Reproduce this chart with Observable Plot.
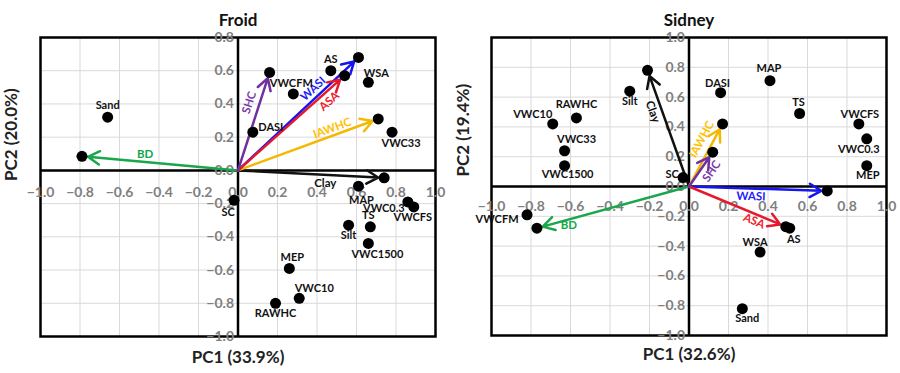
<!DOCTYPE html>
<html>
<head>
<meta charset="utf-8">
<script src="https://cdn.jsdelivr.net/npm/d3@7"></script>
<script src="https://cdn.jsdelivr.net/npm/@observablehq/plot@0.6"></script>
<style>
  html, body { margin: 0; padding: 0; background: #fff; }
  #wrap { display: flex; width: 900px; height: 373px; }
  #wrap svg { display: block; }
</style>
</head>
<body>
<div id="wrap"></div>
<script>
// ---------- DATA ----------
const froidVars = ["Sand","BD","SHC","VWCFM","DASI","AS","ASA","WASI","WSA","IAWHC","VWC33","Clay","SC","MAP","VWC0.3","VWCFS","TS","Silt","VWC1500","MEP","VWC10","RAWHC"];
const froidPC1  = [-0.66,-0.79,0.16,0.28,0.075,0.47,0.54,0.61,0.66,0.71,0.78,0.74,-0.02,0.61,0.86,0.89,0.67,0.56,0.66,0.26,0.31,0.19];
const froidPC2  = [0.32,0.085,0.59,0.46,0.23,0.60,0.57,0.68,0.53,0.31,0.23,-0.045,-0.18,-0.095,-0.19,-0.22,-0.34,-0.33,-0.44,-0.59,-0.77,-0.80];

const sidneyVars = ["Clay","Silt","RAWHC","VWC10","VWC33","VWC1500","SC","DASI","IAWHC","SHC","MAP","TS","VWCFS","VWC0.3","MEP","WASI","AS","ASA","WSA","Sand","VWCFM","BD"];
const sidneyPC1  = [-0.21,-0.30,-0.57,-0.69,-0.63,-0.63,-0.03,0.16,0.17,0.12,0.41,0.56,0.86,0.90,0.90,0.70,0.51,0.49,0.36,0.27,-0.82,-0.77];
const sidneyPC2  = [0.78,0.64,0.46,0.42,0.24,0.14,0.06,0.63,0.42,0.23,0.71,0.49,0.42,0.32,0.14,-0.03,-0.28,-0.27,-0.44,-0.82,-0.19,-0.28];

const arrowVars = ["BD","Clay","IAWHC","WASI","ASA","SHC"];
const xTicks = [-1,-0.8,-0.6,-0.4,-0.2,0,0.2,0.4,0.6,0.8,1];
const froidYTicks = [-1,-0.8,-0.6,-0.4,-0.2,0,0.2,0.4,0.6,0.8];
const sidneyYTicks = [-1,-0.8,-0.6,-0.4,-0.2,0,0.2,0.4,0.6,0.8,1];

// ---------- STYLE / LAYOUT ----------
const arrowColor = {BD:"#1aa64a", Clay:"#111111", IAWHC:"#f5b800", WASI:"#1515f0", ASA:"#e5192c", SHC:"#7030a0"};
const labelColor = {BD:"#12a84a", Clay:"#111111", IAWHC:"#ffc000", WASI:"#1e1ef5", ASA:"#ef1c2c", SHC:"#7a3aa8"};

const froidArrowLabel = {
  BD:{t:0.6, off:-8, rot:false}, Clay:{t:0.6, off:-8, rot:false},
  SHC:{t:0.66, off:10, rot:true}, WASI:{t:0.67, off:8, rot:true},
  ASA:{t:0.80, off:-9, rot:true}, IAWHC:{t:0.69, off:7, rot:true}
};
const sidneyArrowLabel = {
  Clay:{t:0.67, off:9, rot:true}, IAWHC:{t:0.67, off:11, rot:true},
  SHC:{t:0.61, off:-10, rot:true}, WASI:{t:0.45, off:-8, rot:true},
  ASA:{t:0.70, off:-7, rot:true}, BD:{t:0.80, off:6, rot:false}
};
const froidLabelOff = {
  Sand:[0,-12], VWCFM:[-2,-11], DASI:[18,-5], AS:[0,-11], WSA:[8,-9], VWC33:[9,11],
  SC:[-6,12], MAP:[3,14], "VWC0.3":[-24,7], VWCFS:[-1,11], TS:[-2,-11], Silt:[0,10],
  VWC1500:[9,11], MEP:[3,-11], VWC10:[15,-10], RAWHC:[0,10]
};
const sidneyLabelOff = {
  Silt:[0,10], RAWHC:[0,-13], VWC10:[-20,-9], VWC33:[12,-11], VWC1500:[3,9], SC:[-11,-3],
  DASI:[-3,-9], MAP:[-1,-12], TS:[-1,-11], VWCFS:[1,-9], "VWC0.3":[-8,11], MEP:[1,10],
  AS:[4,11], WSA:[-5,-10], Sand:[5,10], VWCFM:[-30,5]
};

const fmt = d3.format(".1f");
const FONT = "Lato, 'Open Sans', sans-serif";

function panel(cfg) {
  const W = 450, H = 373;
  const {mL, mR, mT, mB, yDomain} = cfg;
  const data = cfg.names.map((n, i) => ({name: n, x: cfg.pc1[i], y: cfg.pc2[i]}));
  const byName = Object.fromEntries(data.map(d => [d.name, d]));
  const kx = (W - mL - mR) / 2;
  const ky = (H - mT - mB) / (yDomain[1] - yDomain[0]);

  const marks = [
    Plot.ruleX(xTicks, {stroke: "#d9d9d9", strokeWidth: 1}),
    Plot.ruleY(cfg.yTicks, {stroke: "#d9d9d9", strokeWidth: 1}),
    Plot.frame({stroke: "#000", strokeWidth: 2.5}),
    Plot.ruleX([0], {stroke: "#000", strokeWidth: 2.5}),
    Plot.ruleY([0], {stroke: "#000", strokeWidth: 2.5}),
    Plot.text(xTicks, {x: d => d, y: () => 0, text: d => fmt(d), dy: cfg.xTickDy, fill: "#808080", fontSize: 14, fontWeight: "bold"}),
    Plot.text(cfg.yTicks, {x: () => 0, y: d => d, text: d => fmt(d), dx: -4, textAnchor: "end", fill: "#808080", fontSize: 14, fontWeight: "bold"})
  ];

  for (const v of arrowVars) {
    const d = byName[v];
    marks.push(Plot.arrow([d], {x1: () => 0, y1: () => 0, x2: "x", y2: "y", stroke: arrowColor[v], strokeWidth: 2.5, headLength: 8, insetEnd: 6}));
  }
  marks.push(Plot.dot(data, {x: "x", y: "y", r: 5.5, fill: "#000"}));

  for (const v of arrowVars) {
    const d = byName[v];
    const L = cfg.arrowLabel[v];
    const vx = d.x * kx, vy = -d.y * ky;
    const len = Math.hypot(vx, vy);
    const ux = vx / len, uy = vy / len;
    const nx = uy, ny = -ux;
    let ang = Math.atan2(uy, ux) * 180 / Math.PI;
    if (ang > 90) ang -= 180;
    if (ang <= -90) ang += 180;
    marks.push(Plot.text([d], {
      x: p => p.x * L.t, y: p => p.y * L.t, text: "name",
      dx: L.off * nx, dy: L.off * ny, rotate: L.rot ? ang : 0,
      fill: labelColor[v], fontSize: 11.5, fontWeight: "bold"
    }));
  }
  for (const d of data) {
    const o = cfg.labelOff[d.name];
    if (!o) continue;
    marks.push(Plot.text([d], {x: "x", y: "y", text: "name", dx: o[0], dy: o[1], fill: "#111", fontSize: 11, fontWeight: "bold"}));
  }
  marks.push(Plot.text([cfg.title], {frameAnchor: "top", dy: -24, text: d => d, fontSize: 17, fontWeight: "bold", fill: "#111"}));
  marks.push(Plot.text([cfg.xTitle], {frameAnchor: "bottom", dy: cfg.xTitleDy, text: d => d, fontSize: 17, fontWeight: "bold", fill: "#222"}));
  marks.push(Plot.text([cfg.yTitle], {frameAnchor: "left", dx: cfg.yTitleDx, dy: cfg.yTitleDy, rotate: -90, text: d => d, fontSize: 17, fontWeight: "bold", fill: "#222"}));

  return Plot.plot({
    width: W, height: H,
    marginLeft: mL, marginRight: mR, marginTop: mT, marginBottom: mB,
    x: {domain: [-1, 1], axis: null},
    y: {domain: yDomain, axis: null},
    style: {fontFamily: FONT, background: "#fff", overflow: "visible"},
    marks
  });
}

const wrap = document.getElementById("wrap");
wrap.append(panel({
  title: "Froid", xTitle: "PC1 (33.9%)", yTitle: "PC2 (20.0%)",
  names: froidVars, pc1: froidPC1, pc2: froidPC2,
  yDomain: [-1, 0.8], yTicks: froidYTicks,
  mL: 40, mR: 15, mT: 37, mB: 37,
  xTickDy: 22, xTitleDy: 26, yTitleDx: -29, yTitleDy: -6,
  arrowLabel: froidArrowLabel, labelOff: froidLabelOff
}));
wrap.append(panel({
  title: "Sidney", xTitle: "PC1 (32.6%)", yTitle: "PC2 (19.4%)",
  names: sidneyVars, pc1: sidneyPC1, pc2: sidneyPC2,
  yDomain: [-1, 1], yTicks: sidneyYTicks,
  mL: 41, mR: 14, mT: 37, mB: 38,
  xTickDy: 20, xTitleDy: 24, yTitleDx: -28, yTitleDy: -10,
  arrowLabel: sidneyArrowLabel, labelOff: sidneyLabelOff
}));
</script>
</body>
</html>
